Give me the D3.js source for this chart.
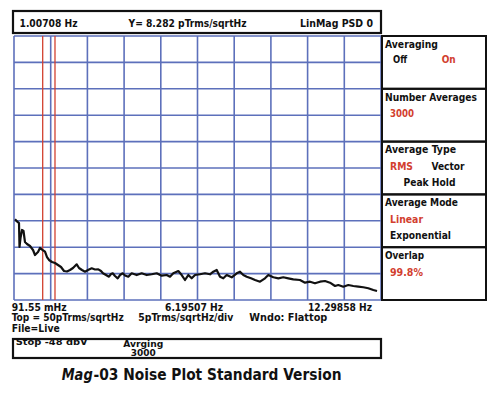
<!DOCTYPE html>
<html><head><meta charset="utf-8">
<script src="https://cdn.jsdelivr.net/npm/d3@7"></script>
<style>
html,body{margin:0;padding:0;background:#fff;}
svg text{font-family:"DejaVu Sans Condensed","DejaVu Sans","Liberation Sans",sans-serif;font-stretch:condensed;font-weight:bold;fill:#111;}
</style></head>
<body>
<svg id="c" width="490" height="393"></svg>
<script>
// ---- data ----
const freqHz = [0.125,0.191,0.258,0.275,0.308,0.358,0.408,0.457,0.524,0.624,
  0.724,0.790,0.890,0.956,1.023,1.123,1.189,1.256,1.356,1.455,
  1.555,1.655,1.755,1.854,1.954,2.054,2.177,2.254,2.353,2.453,
  2.553,2.676,2.786,2.896,2.985,3.052,3.152,3.251,3.318,3.375,
  3.451,3.541,3.617,3.707,3.784,
  3.893,4.006,4.173,4.339,4.505,4.672,4.838,5.004,5.171,5.280,
  5.390,5.557,5.670,5.779,5.889,6.002,6.112,6.278,6.445,6.611,
  6.721,6.834,6.944,7.053,7.166,7.333,7.499,7.609,7.719,7.832,
  7.975,8.108,
  8.274,8.440,8.550,8.716,8.883,9.049,9.215,9.382,9.604,9.771,
  9.937,10.103,10.270,10.436,10.602,10.769,10.878,11.045,11.211,11.378,
  11.544,11.710,11.876,12.043,12.166];
const psd = [15.28,14.87,14.58,10.04,11.74,13.26,13.07,10.98,10.61,10.23,
  9.47,8.52,9.09,9.85,9.56,9.15,8.14,7.58,7.20,7.01,
  6.63,6.25,5.49,5.40,5.68,6.06,6.76,6.06,5.68,5.36,
  5.68,6.00,5.78,5.81,5.49,5.06,4.73,4.41,4.92,5.06,
  4.55,4.11,4.73,5.06,4.64,
  4.41,5.06,4.73,5.06,4.73,4.87,5.06,4.60,4.73,4.41,
  5.06,5.49,4.73,3.79,4.73,4.11,4.73,4.87,5.06,4.87,
  5.36,5.68,4.41,4.11,4.73,4.30,5.06,5.36,4.73,4.41,
  4.11,3.79,
  3.47,4.11,4.73,4.30,4.11,4.30,4.11,3.92,3.79,3.28,
  3.47,3.16,3.47,3.60,3.28,2.65,2.84,2.52,2.84,2.65,
  2.52,2.41,2.22,1.89,1.70];
const cursorHz = [1.046, 1.455];
const freqRange = [0.09155, 12.29858];
const yRange = [0, 50];
const headerTexts = ["1.00708 Hz", "Y= 8.282 pTrms/sqrtHz", "LinMag PSD 0"];
const freqLabels = ["91.55 mHz", "6.19507 Hz", "12.29858 Hz"];
const infoLine = ["Top = 50pTrms/sqrtHz", "5pTrms/sqrtHz/div", "Wndo:  Flattop"];
const fileText = "File=Live";
const statusTexts = ["Stop  -48 dbV", "Avrging", "3000"];
const title = ["Mag", "-03 Noise Plot Standard Version"];
const panelTitles = ["Averaging", "Number Averages", "Average Type", "Average Mode", "Overlap"];
const panelItems = [
  [["Off","k",0,0],["On","r",1,0]],
  [["3000","r",0,0]],
  [["RMS","r",0,0],["Vector","k",1,0],["Peak Hold","k",2,1]],
  [["Linear","r",0,0],["Exponential","k",0,1]],
  [["99.8%","r",0,0]]
];

// ---- layout ----
const svg = d3.select("#c");
const L = 14, R = 381, T = 36, B = 300;
const x = d3.scaleLinear().domain(freqRange).range([L, R]);
const y = d3.scaleLinear().domain(yRange).range([B, T]);
const gridC = "#5d70bb", redC = "#d2402f", ink = "#111";

function txt(xx, yy, s, len, size, opts = {}) {
  const t = svg.append("text").attr("x", xx).attr("y", yy).attr("font-size", size)
    .attr("textLength", len).attr("lengthAdjust", "spacingAndGlyphs").text(s);
  if (opts.fill) t.style("fill", opts.fill);
  if (opts.italic) t.attr("font-style", "italic");
  return t;
}

// grid
const xt = d3.range(11).map(i => freqRange[0] + i*(freqRange[1]-freqRange[0])/10);
const yt = d3.range(0, 51, 5);
const g = svg.append("g");
g.selectAll(".vx").data(xt).join("line")
  .attr("x1", d => x(d)).attr("x2", d => x(d)).attr("y1", T).attr("y2", B)
  .attr("stroke", gridC).attr("stroke-width", 1.6);
g.selectAll(".hy").data(yt).join("line")
  .attr("x1", L).attr("x2", R).attr("y1", d => y(d)).attr("y2", d => y(d))
  .attr("stroke", gridC).attr("stroke-width", 1.6);

// cursors
g.selectAll(".cur").data(cursorHz).join("line")
  .attr("x1", d => x(d)).attr("x2", d => x(d)).attr("y1", T).attr("y2", B)
  .attr("stroke", redC).attr("stroke-width", 1.3);

// trace
const pts = freqHz.map((f,i) => [f, psd[i]]);
svg.append("path").datum(pts)
  .attr("d", d3.line().x(d => x(d[0])).y(d => y(d[1])))
  .attr("fill", "none").attr("stroke", ink).attr("stroke-width", 2.2).attr("stroke-linejoin","round");

// header box
svg.append("rect").attr("x", 13).attr("y", 11).attr("width", 368).attr("height", 22)
  .attr("fill", "none").attr("stroke", ink).attr("stroke-width", 2.2);
txt(19.5, 27, headerTexts[0], 58, 10.5);
txt(128.5, 27, headerTexts[1], 118, 10.5);
txt(300, 27, headerTexts[2], 73, 10.5);

// right panel
const PL = 382, PR = 486;
const secH = (B - T)/5;
const titleLen = [53, 92, 71, 73, 39];
const itemLen = {"Off":14,"On":14,"3000":24,"RMS":23,"Vector":33,"Peak Hold":52,"Linear":33,"Exponential":61,"99.8%":33};
panelTitles.forEach((t,i) => {
  const top = T + i*secH;
  svg.append("rect").attr("x", PL).attr("y", top).attr("width", PR-PL).attr("height", secH)
    .attr("fill", "none").attr("stroke", ink).attr("stroke-width", 2);
  txt(385, top + 11.7, t, titleLen[i], 10.5);
  const colX = [390, 431.5, 403.5];
  panelItems[i].forEach(([s, c, col, row]) => {
    let xx = colX[col];
    if (i === 0) xx = col === 0 ? 393 : 441.7;
    const yy = top + (i === 0 ? 27.3 : 28.5) + row*15.7;
    txt(xx, yy, s, itemLen[s], 10.5, {fill: c === "r" ? redC : ink});
  });
});

// frequency labels
txt(11.7, 310.5, freqLabels[0], 55, 10.5);
txt(165, 310.5, freqLabels[1], 58, 10.5);
txt(308, 310.5, freqLabels[2], 64, 10.5);
txt(11.7, 321.3, infoLine[0], 112, 10);
txt(138.3, 321.3, infoLine[1], 95, 10);
txt(249.3, 321.3, infoLine[2], 78, 10);
txt(11.7, 332.2, fileText, 48, 10);

// status box
svg.append("rect").attr("x", 13).attr("y", 339).attr("width", 368).attr("height", 19)
  .attr("fill", "none").attr("stroke", ink).attr("stroke-width", 2.2);
txt(15.7, 344.6, statusTexts[0], 72, 9);
txt(123.3, 347.2, statusTexts[1], 40, 8.5);
txt(130.7, 356.2, statusTexts[2], 25, 8.5);

// title
txt(61.7, 380, title[0], 31, 15, {italic: true});
txt(93.5, 380, title[1], 248, 15);
</script>
</body></html>
